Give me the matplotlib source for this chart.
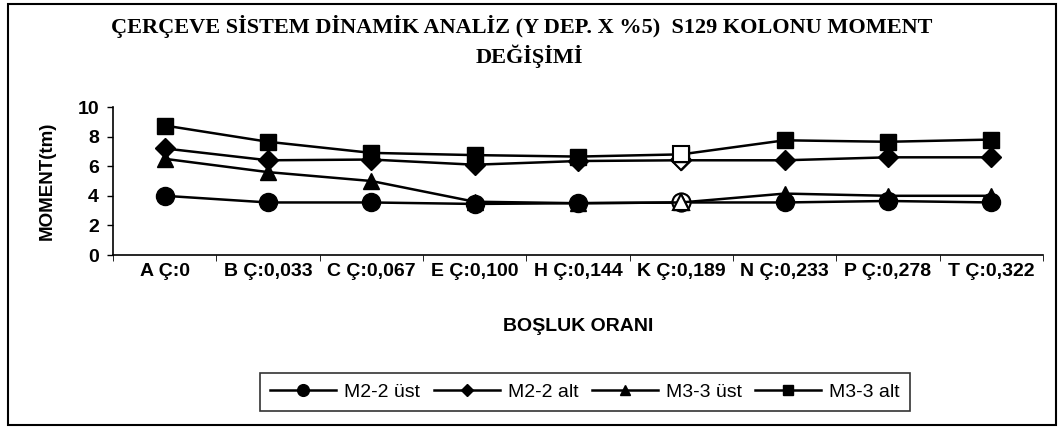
import matplotlib.pyplot as plt
from matplotlib.patches import Rectangle

categories = ["A Ç:0", "B Ç:0,033", "C Ç:0,067", "E Ç:0,100", "H Ç:0,144",
              "K Ç:0,189", "N Ç:0,233", "P Ç:0,278", "T Ç:0,322"]
m22_ust = [4.0, 3.55, 3.55, 3.45, 3.5, 3.55, 3.55, 3.65, 3.55]
m22_alt = [7.2, 6.4, 6.45, 6.1, 6.35, 6.4, 6.4, 6.6, 6.6]
m33_ust = [6.5, 5.6, 5.0, 3.6, 3.5, 3.55, 4.15, 4.0, 4.0]
m33_alt = [8.75, 7.65, 6.9, 6.75, 6.65, 6.8, 7.75, 7.65, 7.8]
series_names = ["M2-2 üst", "M2-2 alt", "M3-3 üst", "M3-3 alt"]
open_idx = 5  # K point drawn hollow

plt.rcParams["font.family"] = ["Liberation Sans", "DejaVu Sans"]

fig = plt.figure(figsize=(10.59, 4.28), dpi=100)
ax = fig.add_axes([113 / 1059, 1 - 255 / 428, 930 / 1059, 148 / 428])

x = list(range(len(categories)))
styles = [("o", 13), ("D", 10), ("^", 12), ("s", 12)]
for vals, name, (mk, ms) in zip([m22_ust, m22_alt, m33_ust, m33_alt], series_names, styles):
    ax.plot(x, vals, color="black", lw=1.8, marker=mk, markersize=ms,
            markerfacecolor="black", markeredgecolor="black", label=name)
    ax.plot([x[open_idx]], [vals[open_idx]], linestyle="none", marker=mk,
            markersize=ms, markerfacecolor="white", markeredgecolor="black",
            markeredgewidth=1.5)

ax.set_xlim(-0.5, len(categories) - 0.5)
ax.set_ylim(0, 10)
ax.set_yticks([0, 2, 4, 6, 8, 10])
ax.set_xticks(x)
ax.set_xticklabels(categories, fontsize=14, fontweight="bold")
ax.set_xticks([i - 0.5 for i in range(len(categories) + 1)], minor=True)
ax.tick_params(axis="x", which="major", length=0, pad=6)
ax.tick_params(axis="x", which="minor", length=4, direction="out")
ax.tick_params(axis="y", length=4, labelsize=14, width=1, pad=6)
for lab in ax.get_yticklabels():
    lab.set_fontweight("bold")
for side in ["top", "right"]:
    ax.spines[side].set_visible(False)
ax.spines["left"].set_linewidth(1.2)
ax.spines["bottom"].set_linewidth(1.2)

ax.set_ylabel("MOMENT(tm)", fontsize=13.5, fontweight="bold", labelpad=16)
ax.set_xlabel("BOŞLUK ORANI", fontsize=14, fontweight="bold", labelpad=27)

fig.text(0.493, 1 - 26 / 428, "ÇERÇEVE SİSTEM DİNAMİK ANALİZ (Y DEP. X %5)  S129 KOLONU MOMENT",
         ha="center", va="center", fontsize=16, fontweight="bold",
         family=["Liberation Serif", "DejaVu Serif"])
fig.text(0.5, 1 - 56 / 428, "DEĞİŞİMİ", ha="center", va="center", fontsize=16,
         fontweight="bold", family=["Liberation Serif", "DejaVu Serif"])

leg = ax.legend(loc="center", bbox_to_anchor=(585 / 1059, 1 - 392 / 428),
                bbox_transform=fig.transFigure, ncol=4, fontsize=14,
                markerscale=0.65, handlelength=3.4, columnspacing=0.7,
                handletextpad=0.4, frameon=True, fancybox=False,
                borderpad=0.5)
leg.get_frame().set_edgecolor("black")
leg.get_frame().set_linewidth(1.2)

fig.patches.append(Rectangle((8 / 1059, 3 / 428), 1048 / 1059, 421 / 428,
                             transform=fig.transFigure, fill=False,
                             edgecolor="black", linewidth=1.5))

fig.savefig("out.png", dpi=100)
